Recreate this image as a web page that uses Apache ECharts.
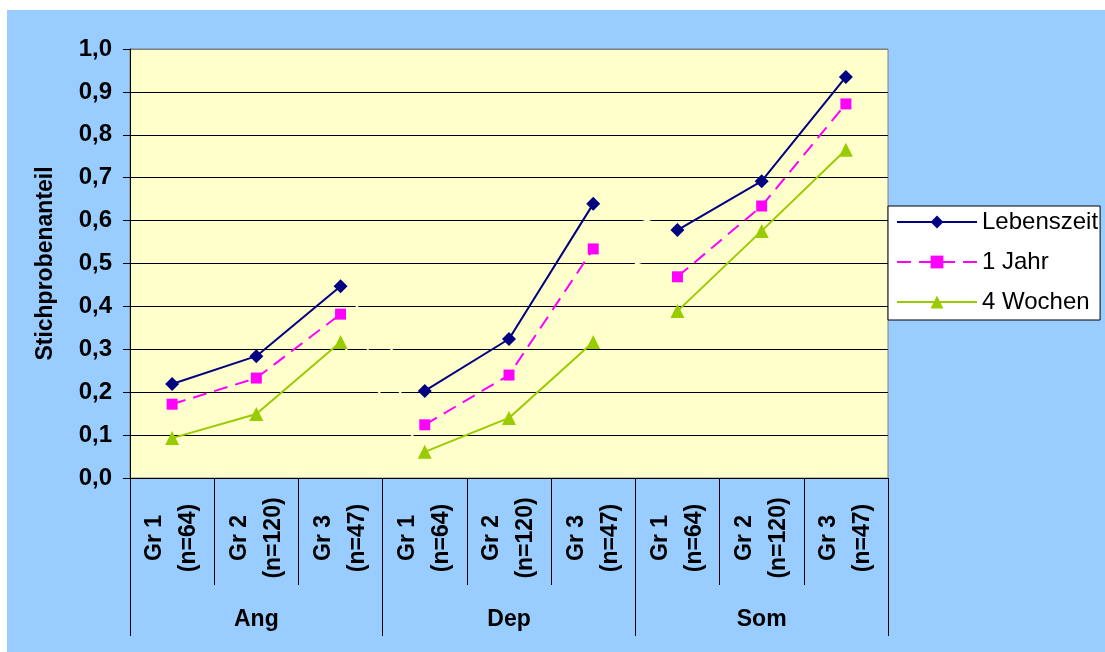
<!DOCTYPE html>
<html>
<head>
<meta charset="utf-8">
<script src="https://cdn.jsdelivr.net/npm/echarts@6/dist/echarts.min.js"></script>
<style>
html,body{margin:0;padding:0;background:#ffffff;}
#chart{position:absolute;left:7px;top:10px;width:1098px;height:642px;background:#99CCFF;}
</style>
</head>
<body>
<div id="chart"></div>
<script>
const groups = ['Ang', 'Dep', 'Som'];
const subCategories = ['Gr 1\n(n=64)', 'Gr 2\n(n=120)', 'Gr 3\n(n=47)'];
const categories = [].concat(subCategories, subCategories, subCategories);
const lebenszeit = [0.219, 0.284, 0.447, 0.203, 0.324, 0.639, 0.578, 0.692, 0.935];
const einJahr    = [0.172, 0.233, 0.382, 0.124, 0.240, 0.534, 0.469, 0.634, 0.872];
const vierWochen = [0.093, 0.149, 0.317, 0.061, 0.140, 0.317, 0.389, 0.576, 0.765];
const yTicks = [0, 0.1, 0.2, 0.3, 0.4, 0.5, 0.6, 0.7, 0.8, 0.9, 1.0];

const FONT = '"Liberation Sans", Arial, sans-serif';

const seriesDefs = [
  {name: 'Lebenszeit', values: lebenszeit, color: '#000080', symbol: 'diamond', size: 14, dash: 'solid'},
  {name: '1 Jahr', values: einJahr, color: '#FF00FF', symbol: 'rect', size: 11, dash: [14, 8]},
  {name: '4 Wochen', values: vierWochen, color: '#99CC00', symbol: 'triangle', size: 14, dash: 'solid'}
];

const series = [];
// plot-coloured connector segments between groups (they only show where they cross gridlines)
seriesDefs.forEach(def => {
  for (let g = 0; g < groups.length - 1; g++) {
    const data = def.values.map((v, i) => (i === g * 3 + 2 || i === g * 3 + 3) ? v : '-');
    series.push({
      name: def.name + '_gap' + g,
      type: 'line',
      data: data,
      symbol: 'none',
      silent: true,
      z: 1,
      lineStyle: {color: '#FFFFCC', width: 2, type: def.dash},
      emphasis: {disabled: true}
    });
  }
});
seriesDefs.forEach(def => {
  for (let g = 0; g < groups.length; g++) {
    const data = def.values.map((v, i) => Math.floor(i / 3) === g ? v : '-');
    series.push({
      name: def.name,
      type: 'line',
      data: data,
      symbol: def.symbol,
      symbolSize: def.size,
      z: 3,
      itemStyle: {color: def.color},
      lineStyle: {color: def.color, width: 2, type: def.dash},
      emphasis: {disabled: true}
    });
  }
});

const chart = echarts.init(document.getElementById('chart'), null, {renderer: 'canvas'});
chart.setOption({
  animation: false,
  backgroundColor: '#99CCFF',
  textStyle: {fontFamily: FONT},
  grid: {
    left: 123, top: 39, right: 217, bottom: 174,
    show: true, backgroundColor: '#FFFFCC', borderColor: '#808080', borderWidth: 1
  },
  legend: {
    data: seriesDefs.map(d => d.name),
    orient: 'vertical',
    left: 881, top: 196,
    backgroundColor: '#FFFFFF',
    borderColor: '#000000', borderWidth: 1,
    padding: [4, 2, 6, 8],
    itemWidth: 80, itemHeight: 16, itemGap: 16,
    textStyle: {fontSize: 24, color: '#000', fontFamily: FONT},
    selectedMode: false
  },
  xAxis: [
    {
      type: 'category',
      data: categories,
      position: 'bottom',
      boundaryGap: true,
      axisLine: {show: true, lineStyle: {color: '#000', width: 1}},
      axisTick: {show: true, length: 107, lineStyle: {color: '#000', width: 1}},
      axisLabel: {
        rotate: 90, align: 'center', verticalAlign: 'middle', margin: 60,
        fontSize: 23, fontWeight: 'bold', color: '#000', lineHeight: 34,
        fontFamily: FONT, interval: 0
      },
      splitLine: {show: false}
    },
    {
      type: 'category',
      data: groups,
      position: 'bottom',
      offset: 0,
      boundaryGap: true,
      axisLine: {show: false},
      axisTick: {show: true, length: 158, lineStyle: {color: '#000', width: 1}},
      axisLabel: {margin: 130, fontSize: 23, fontWeight: 'bold', color: '#000', fontFamily: FONT},
      splitLine: {show: false}
    }
  ],
  yAxis: {
    type: 'value',
    min: yTicks[0], max: yTicks[yTicks.length - 1], interval: 0.1,
    name: 'Stichprobenanteil',
    nameLocation: 'middle', nameRotate: 90, nameGap: 73,
    nameTextStyle: {fontSize: 23, fontWeight: 'bold', color: '#000', fontFamily: FONT},
    axisLine: {show: true, lineStyle: {color: '#000', width: 1}},
    axisTick: {show: true, length: 7, lineStyle: {color: '#000'}},
    axisLabel: {
      margin: 18, fontSize: 24, fontWeight: 'bold', color: '#000', fontFamily: FONT,
      formatter: v => v.toFixed(1).replace('.', ',')
    },
    splitLine: {show: true, lineStyle: {color: ['#000','#000','#000','#000','#000','#000','#000','#000','#000','#000','#808080'], width: 1}}
  },
  series: series
});
</script>
</body>
</html>
